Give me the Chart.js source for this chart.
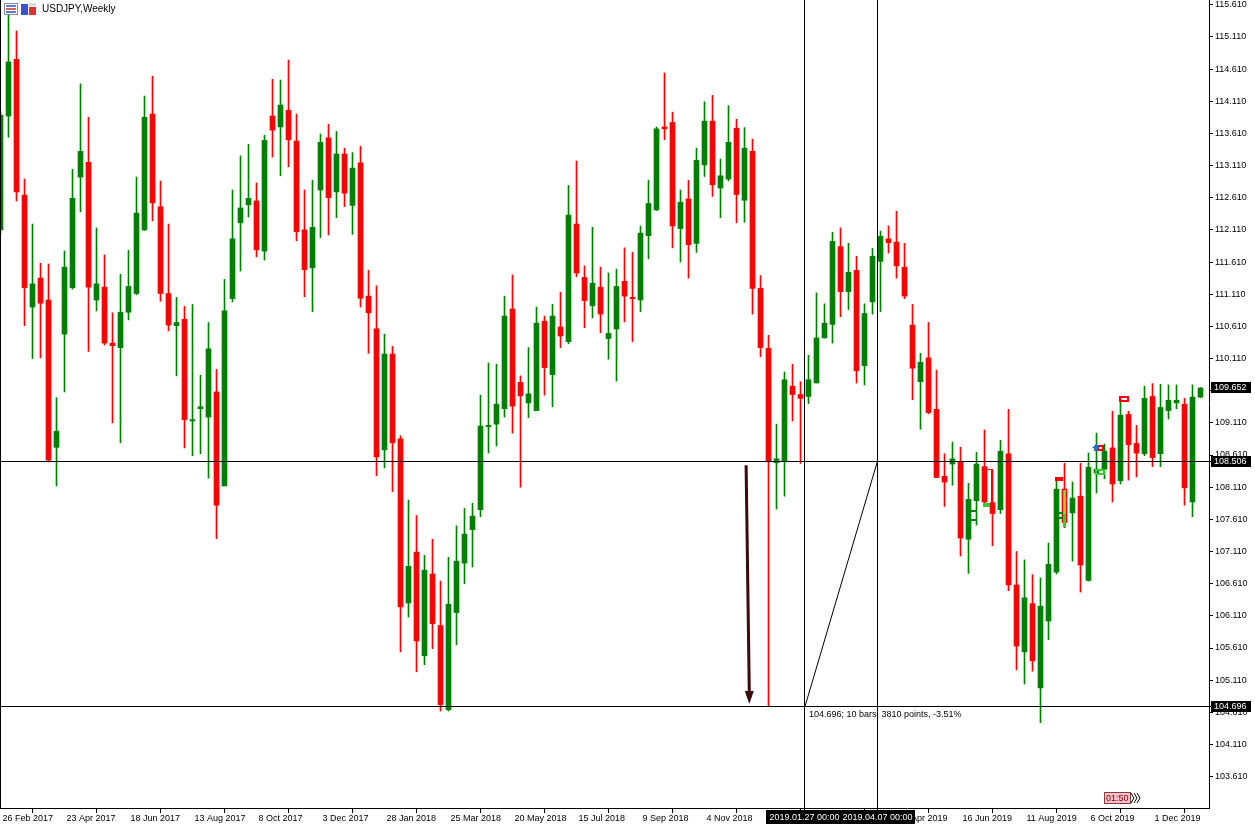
<!DOCTYPE html>
<html><head><meta charset="utf-8">
<script src="https://cdn.jsdelivr.net/npm/chart.js@4.4.0/dist/chart.umd.min.js"></script>
<style>html,body{margin:0;padding:0;background:#fff;overflow:hidden}#wrap{width:1255px;height:829px;position:relative}</style>
</head><body><div id="wrap"><canvas id="c" width="1255" height="829"></canvas></div>
<script>
// ---- DATA (USDJPY weekly, first bar = week of 26 Feb 2017) ----
const symbolTitle = 'USDJPY,Weekly';
const open = [112.11,113.88,114.76,112.65,110.91,111.36,111.02,108.73,110.49,111.21,
112.93,113.16,111.02,111.22,110.35,110.28,110.83,111.12,112.11,113.91,
112.47,111.12,110.62,110.72,109.14,109.33,109.20,109.59,108.13,111.04,
112.22,112.50,112.56,111.78,113.88,113.71,113.97,113.49,112.11,111.52,
112.73,113.54,112.70,113.29,112.49,113.15,111.08,110.57,108.69,110.18,
108.86,106.31,107.10,105.49,106.76,105.96,104.65,106.16,106.93,107.45,
107.76,109.05,109.09,109.33,110.88,109.74,109.42,109.30,110.69,109.86,
110.60,110.37,112.20,111.37,110.93,111.22,110.42,110.57,111.31,111.06,
111.02,112.02,112.42,113.71,113.78,112.13,112.59,111.90,113.12,113.80,
112.76,112.90,113.69,112.57,113.33,111.20,110.27,108.49,108.52,109.68,
109.55,109.52,109.73,110.43,110.64,111.85,111.15,111.48,110.00,110.99,
111.62,111.97,111.92,111.53,110.63,109.75,110.12,109.32,108.28,108.47,
108.51,107.30,107.90,108.43,107.87,107.76,108.63,106.59,105.55,106.30,
104.99,106.03,106.79,108.08,107.71,107.97,106.66,108.33,108.39,108.72,
108.21,109.24,108.79,108.63,109.52,108.63,109.30,109.42,109.40,107.88,109.51];
const high = [113.95,115.46,115.20,112.90,112.20,111.59,111.58,109.50,111.78,113.05,
114.38,113.86,112.14,111.72,110.82,111.42,111.79,112.93,114.19,114.50,
112.87,112.20,111.06,110.92,110.95,109.85,110.67,109.94,111.34,112.73,
113.26,113.44,112.84,113.58,114.45,114.44,114.75,113.91,112.73,112.88,
113.60,113.75,113.64,113.38,113.31,113.41,111.48,111.24,110.49,110.30,
108.91,107.91,107.67,107.05,107.30,106.65,107.02,107.51,107.78,107.86,
109.54,110.04,110.02,111.08,111.41,109.84,110.28,110.91,110.77,110.95,
111.14,112.80,113.18,111.55,112.15,111.53,111.44,111.50,111.83,111.76,
112.17,112.88,113.71,114.55,113.94,112.73,112.88,113.38,114.10,114.20,
113.21,114.04,113.83,113.70,113.52,111.40,110.47,109.09,109.90,110.02,
109.75,110.16,111.13,110.96,112.07,112.14,111.90,111.70,110.96,111.82,
112.09,112.17,112.40,111.90,110.95,110.19,110.67,109.93,108.63,108.81,
108.73,108.17,108.65,109.00,108.37,108.84,109.32,107.11,106.98,106.75,
106.70,107.24,108.25,108.48,108.19,108.48,108.64,108.95,108.78,109.29,
109.49,109.29,109.07,109.68,109.72,109.71,109.70,109.70,109.49,109.70,109.66];
const low = [112.05,113.55,112.56,110.62,110.11,110.12,108.50,108.13,109.59,111.19,
112.39,110.22,110.85,110.32,109.11,108.80,110.71,111.10,112.10,112.25,
111.00,110.54,109.84,108.72,108.60,108.63,108.25,107.31,108.13,110.99,
111.47,112.31,111.69,111.64,113.24,112.95,113.09,111.94,111.07,110.84,
111.99,112.03,112.30,112.47,112.04,110.91,110.19,108.29,108.41,108.04,
105.55,106.09,105.24,105.35,105.60,104.63,104.63,105.66,106.61,106.87,
107.65,108.64,108.75,109.20,108.95,108.11,109.19,109.30,109.54,109.36,
110.28,110.34,111.38,110.59,110.74,110.51,110.10,109.76,110.68,110.37,
110.84,111.66,112.41,113.51,111.83,111.61,111.36,111.76,112.94,112.63,
112.30,112.87,112.22,112.23,110.80,110.14,104.70,107.77,107.97,109.14,
108.48,109.41,109.73,110.43,110.35,110.76,110.87,109.73,109.70,110.80,
110.84,111.75,111.36,111.04,109.47,109.01,109.25,108.26,107.81,108.14,
107.04,106.77,107.52,107.84,107.20,107.70,106.50,105.27,105.05,105.25,
104.45,105.74,106.76,107.48,106.96,106.48,106.65,108.02,108.24,107.88,
108.16,108.22,108.27,108.60,108.43,108.43,109.17,109.33,107.83,107.65,109.50];
const close = [113.89,114.72,112.70,111.21,111.27,110.97,108.53,108.98,111.53,112.60,
113.33,111.22,111.27,110.35,110.31,110.83,111.23,112.37,113.86,112.53,
111.12,110.63,110.67,109.16,109.16,109.36,110.26,107.83,110.85,111.97,
112.45,112.60,111.80,113.50,113.66,114.05,113.51,112.08,111.49,112.15,
113.47,112.61,113.29,112.68,113.07,111.05,110.82,108.58,110.18,108.80,
106.25,106.88,105.72,106.82,105.99,104.73,106.29,106.96,107.38,107.66,
109.06,109.07,109.40,110.77,109.37,109.53,109.56,110.66,109.97,110.77,
110.46,112.34,111.44,111.01,111.28,110.80,110.50,111.23,111.08,111.04,
112.06,112.52,113.68,113.68,112.17,112.54,111.88,113.19,113.80,112.81,
112.95,113.47,112.66,113.38,111.20,110.28,108.52,108.55,109.78,109.55,
109.49,109.78,110.43,110.66,111.93,111.15,111.45,109.92,110.81,111.70,
112.01,111.91,111.55,111.08,109.96,110.05,109.27,108.26,108.19,108.55,
107.32,107.92,108.47,107.88,107.70,108.67,106.59,105.64,106.39,105.41,
106.26,106.91,108.08,107.56,107.94,106.90,108.42,108.39,108.67,108.16,
109.23,108.77,108.64,109.49,108.57,109.35,109.46,109.46,108.10,109.51,109.65];
// date tick labels, one every 8 weekly bars (bar 0, 8, 16, ...)
const dateTicks = ['26 Feb 2017','23 Apr 2017','18 Jun 2017','13 Aug 2017','8 Oct 2017','3 Dec 2017',
'28 Jan 2018','25 Mar 2018','20 May 2018','15 Jul 2018','9 Sep 2018','4 Nov 2018','30 Dec 2018',
'24 Feb 2019','21 Apr 2019','16 Jun 2019','11 Aug 2019','6 Oct 2019','1 Dec 2019'];
const priceTicks = [115.61,115.11,114.61,114.11,113.61,113.11,112.61,112.11,111.61,111.11,110.61,110.11,
109.61,109.11,108.61,108.11,107.61,107.11,106.61,106.11,105.61,105.11,104.61,104.11,103.61];
const lastPrice = 109.652;
const levelTop = 108.506;
const levelLow = 104.696;
const measureBars = [100.55, 109.6];          // crosshair positions (bar index)
const measureLabels = ['2019.01.27 00:00', '2019.04.07 00:00'];
const measureText = '104.696; 10 bars, 3810 points, -3.51%';
const arrowFrom = {i: 93.2, p: 108.45};
const arrowTo = {i: 93.6, p: 104.74};
const timerText = '01:50';

// ---- CHART ----
const N = open.length;
const idx = open.map((_, i) => i);
const colUp = '#008000', colDn = '#ff0000';
const cols = idx.map(i => close[i] >= open[i] ? colUp : colDn);
const FONT = {family: '"Liberation Sans", Arial, sans-serif', size: 9};
Chart.defaults.font.family = FONT.family;
Chart.defaults.font.size = 9;

const overlay = {
  id: 'overlay',
  afterDatasetsDraw(chart) {
    const c = chart.ctx, xs = chart.scales.x, ys = chart.scales.y, a = chart.chartArea;
    const X = v => xs.getPixelForValue(v), Y = v => ys.getPixelForValue(v);
    c.save();
    // small trade markers
    const rect = (i1, i2, p1, p2, col, fill) => {
      const x1 = Math.round(X(i1)), x2 = Math.round(X(i2)), y1 = Math.round(Y(p1)), y2 = Math.round(Y(p2));
      if (fill) { c.fillStyle = col; c.fillRect(x1, y1, x2 - x1, y2 - y1); }
      else { c.strokeStyle = col; c.lineWidth = 2; c.strokeRect(x1 + 1, y1 + 1, x2 - x1 - 2, y2 - y1 - 2); }
    };
    rect(121.2, 121.9, 107.76, 107.72, colUp, true);
    rect(121.2, 121.9, 107.62, 107.58, colUp, true);
    rect(122.9, 124.1, 108.40, 108.37, colDn, true);
    rect(123.8, 124.05, 108.40, 107.84, colDn, true);
    rect(122.8, 123.7, 107.86, 107.80, '#33cc33', true);
    rect(131.8, 132.8, 108.27, 108.21, colDn, true);
    rect(132.2, 132.8, 107.73, 107.70, colUp, true);
    rect(132.2, 132.8, 107.65, 107.62, colUp, true);
    rect(132.85, 133.2, 108.06, 107.70, '#99cc33', true);
    rect(132.85, 133.2, 107.70, 107.49, '#33cc33', true);
    rect(137.0, 137.9, 108.76, 108.68, colDn, false);
    rect(136.8, 138.0, 108.40, 108.30, '#33cc33', false);
    rect(139.8, 141.0, 109.53, 109.43, colDn, false);
    // blue arrow marker
    { const x = Math.round(X(136.9)), y = Math.round(Y(108.73));
      c.fillStyle = '#1f6fd1'; c.beginPath(); c.moveTo(x, y - 3); c.lineTo(x + 4, y + 1); c.lineTo(x + 2, y + 1);
      c.lineTo(x + 2, y + 4); c.lineTo(x - 2, y + 4); c.lineTo(x - 2, y + 1); c.lineTo(x - 4, y + 1); c.closePath(); c.fill(); }

    c.strokeStyle = '#000'; c.lineWidth = 1;
    // horizontal level lines
    [levelTop, levelLow].forEach(p => {
      const y = Math.floor(Y(p)) + 0.5;
      c.beginPath(); c.moveTo(a.left, y); c.lineTo(a.right + 3, y); c.stroke();
    });
    // vertical crosshair lines
    measureBars.forEach(b => {
      const x = Math.floor(X(b)) + 0.5;
      c.beginPath(); c.moveTo(x, a.top); c.lineTo(x, a.bottom + 2); c.stroke();
    });
    // diagonal measure line
    c.beginPath(); c.moveTo(X(measureBars[0]), Y(levelLow)); c.lineTo(X(measureBars[1]), Y(levelTop)); c.stroke();
    // left border
    c.beginPath(); c.moveTo(a.left + 0.5, a.top); c.lineTo(a.left + 0.5, a.bottom); c.stroke();
    // arrow
    { const x1 = X(arrowFrom.i), y1 = Y(arrowFrom.p), x2 = X(arrowTo.i), y2 = Y(arrowTo.p);
      c.strokeStyle = '#3c0a0a'; c.fillStyle = '#3c0a0a'; c.lineWidth = 3;
      c.beginPath(); c.moveTo(x1, y1); c.lineTo(x2, y2 - 12); c.stroke();
      c.beginPath(); c.moveTo(x2 - 4.5, y2 - 13); c.lineTo(x2 + 4.5, y2 - 13); c.lineTo(x2, y2); c.closePath(); c.fill(); }
    // measure text
    c.fillStyle = '#000'; c.font = '9px ' + FONT.family; c.textBaseline = 'middle'; c.textAlign = 'left';
    c.fillText(measureText, X(measureBars[0]) + 4, Y(levelLow) + 8);
    c.restore();
  },
  afterDraw(chart) {
    const c = chart.ctx, xs = chart.scales.x, ys = chart.scales.y, a = chart.chartArea;
    const X = v => xs.getPixelForValue(v), Y = v => ys.getPixelForValue(v);
    c.save();
    c.font = '9px ' + FONT.family; c.textBaseline = 'middle';
    // price boxes on right axis
    [lastPrice, levelTop, levelLow].forEach(p => {
      const y = Math.floor(Y(p));
      c.fillStyle = '#000'; c.fillRect(a.right + 2, y - 5, 40, 11);
      c.fillStyle = '#fff'; c.textAlign = 'left';
      c.fillText(p.toFixed(3), a.right + 5, y + 0.5);
    });
    // date boxes on bottom axis (second drawn first)
    [1, 0].forEach(k => {
      const x = Math.floor(X(measureBars[k])) + 0.5;
      const w = c.measureText(measureLabels[k]).width + 6;
      c.fillStyle = '#000'; c.fillRect(Math.round(x - w / 2), a.bottom + 2, Math.round(w), 14);
      c.fillStyle = '#fff'; c.textAlign = 'center';
      c.fillText(measureLabels[k], x, a.bottom + 9.5);
    });
    // title & icons
    c.fillStyle = '#fff'; c.strokeStyle = '#7f8fa6'; c.lineWidth = 1;
    c.fillRect(4, 3, 14, 12); c.strokeRect(4.5, 3.5, 13, 11);
    c.fillStyle = '#5b7fd6'; c.fillRect(6, 5, 10, 2); c.fillRect(6, 11, 10, 2);
    c.fillStyle = '#e06060'; c.fillRect(6, 8, 10, 2);
    c.fillStyle = '#3a52d6'; c.fillRect(21, 4, 7, 11);
    c.fillStyle = '#d33'; c.fillRect(29, 7, 7, 8);
    c.fillStyle = '#ddd'; c.fillRect(29, 3, 7, 3);
    c.fillStyle = '#000'; c.textAlign = 'left';
    c.font = '10px ' + FONT.family;
    c.fillText(symbolTitle, 42, 9.5);
    c.font = '9px ' + FONT.family;
    // bar timer
    { const x = 1104, y = a.bottom - 16;
      c.fillStyle = '#ffc0cb'; c.fillRect(x, y, 27, 12);
      c.strokeStyle = '#8b3a3a'; c.strokeRect(x + 0.5, y + 0.5, 26, 11);
      c.fillStyle = '#7a0000'; c.fillText(timerText, x + 2, y + 6.5);
      c.strokeStyle = '#000';
      for (let k = 0; k < 3; k++) { c.beginPath(); c.moveTo(x + 27 + k * 3, y + 1); c.lineTo(x + 30 + k * 3, y + 6); c.lineTo(x + 27 + k * 3, y + 11); c.stroke(); }
    }
    c.restore();
  }
};

const noPad = s => { s.paddingTop = 0; s.paddingBottom = 0; s.paddingLeft = 0; s.paddingRight = 0; };

new Chart(document.getElementById('c'), {
  type: 'bar',
  data: {
    datasets: [
      {label: 'wick', data: idx.map(i => ({x: i, y: [low[i], high[i]]})), backgroundColor: cols,
       barThickness: 1, grouped: false, order: 2},
      {label: 'body', data: idx.map(i => ({x: i, y: [open[i], close[i]]})), backgroundColor: cols,
       barThickness: 5, grouped: false, minBarLength: 1, order: 1}
    ]
  },
  options: {
    responsive: false, animation: false, devicePixelRatio: 1,
    layout: {padding: 0},
    plugins: {legend: {display: false}, tooltip: {enabled: false}, title: {display: false}},
    scales: {
      x: {
        type: 'linear', position: 'bottom', min: -0.0625, max: N + 0.0625, offset: false,
        afterBuildTicks: s => { s.ticks = dateTicks.map((_, k) => ({value: k * 8})); },
        afterFit: s => { s.height = 21; noPad(s); },
        grid: {drawOnChartArea: false, drawTicks: true, tickLength: 5, color: '#000'},
        border: {display: true, color: '#000', width: 1},
        ticks: {autoSkip: false, maxRotation: 0, minRotation: 0, align: 'start', labelOffset: 2, padding: 0,
                color: '#000', font: FONT, callback: v => dateTicks[Math.round(v / 8)]}
      },
      y: {
        type: 'linear', position: 'right', min: 103.123, max: 115.683,
        afterBuildTicks: s => { s.ticks = priceTicks.map(v => ({value: v})); },
        afterFit: s => { s.width = 46; noPad(s); },
        grid: {drawOnChartArea: false, drawTicks: true, tickLength: 4, color: '#000'},
        border: {display: true, color: '#000', width: 1},
        ticks: {autoSkip: false, padding: 2, color: '#000', font: FONT, callback: v => v.toFixed(3)}
      }
    }
  },
  plugins: [overlay]
});
</script></body></html>
